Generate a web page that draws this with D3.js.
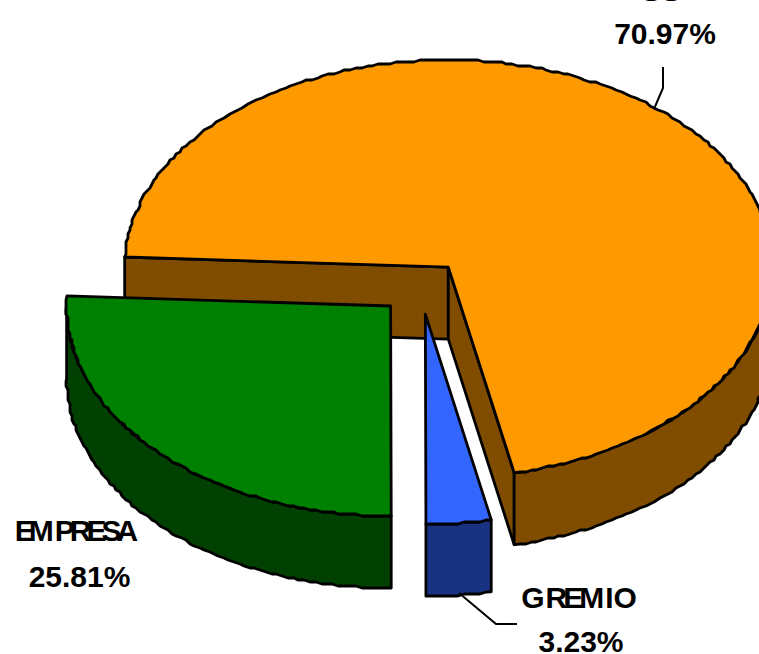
<!DOCTYPE html>
<html>
<head>
<meta charset="utf-8">
<script src="https://cdn.jsdelivr.net/npm/d3@7"></script>
<style>
  html, body { margin: 0; padding: 0; background: #fff; overflow: hidden; }
  text { font-family: "Liberation Sans", Arial, sans-serif; font-weight: bold; fill: #000; text-anchor: middle; }
</style>
</head>
<body>
<div id="plot"></div>
<script>
// values as printed next to each slice
// first name runs off the top of the picture, only the foot of two letters shows
var categories = ["SS", "GREMIO", "EMPRESA"];
var shares = [70.97, 3.23, 25.81];
var shareLabels = ["70.97%", "3.23%", "25.81%"];
var topColors = ["#ff9900", "#3366ff", "#008000"];
var sideColors = ["#804c00", "#1a3380", "#004000"];

var width = 759, height = 654;
var cx = 421, cy = 287.5, rx = 324, ry = 207;
var explode = 42, depth = 72;
var firstAngle = -87.2 * Math.PI / 180;
var grid = 2; // the outline of the original is stepped, not smooth

var svg = d3.select("#plot")
  .append("svg")
    .attr("width", width)
    .attr("height", height);

// unit circle -> tilted ellipse, the front half comes out a little deeper
var x = d3.scaleLinear().domain([-1, 1]).range([cx - rx, cx + rx]);
var y = d3.scaleLinear().domain([-1, 0, 1]).range([cy - ry, cy, cy + ry + 3]);

var pie = d3.pie().sort(null)
  .startAngle(firstAngle)
  .endAngle(firstAngle + 2 * Math.PI);
var slices = pie(shares);

var line = d3.line();

function shift(d) {
  var mid = (d.startAngle + d.endAngle) / 2;
  return [explode * Math.sin(mid), -explode * Math.cos(mid) * ry / rx];
}

function rim(a, d, drop) {
  var s = shift(d);
  return [x(Math.sin(a)) + s[0], y(-Math.cos(a)) + s[1] + drop];
}

function apex(d, drop) {
  var s = shift(d);
  return [cx + s[0], cy + s[1] + drop];
}

function arcPoints(a0, a1, d, drop) {
  var n = Math.max(1, Math.ceil(Math.abs(a1 - a0) * 55));
  return d3.range(n + 1).map(function (i) {
    var p = rim(a0 + (a1 - a0) * i / n, d, drop);
    if (i === 0 || i === n) return p;
    return [Math.round(p[0] / grid) * grid, Math.round(p[1] / grid) * grid];
  });
}

function drawFace(points, color) {
  svg.append("path")
    .attr("d", line(points) + "Z")
    .attr("fill", color)
    .attr("stroke", "#000")
    .attr("stroke-width", 2.8)
    .attr("stroke-linejoin", "round");
}

function drawSlice(i) {
  var d = slices[i];
  var a0 = d.startAngle, a1 = d.endAngle;

  // the cut walls only face the viewer on the big slice
  if (i === 0) {
    drawFace([apex(d, 0), rim(a0, d, 0), rim(a0, d, depth), apex(d, depth)], sideColors[i]);
    drawFace([apex(d, 0), rim(a1, d, 0), rim(a1, d, depth), apex(d, depth)], sideColors[i]);
  }

  // outer wall, front half of the ellipse only
  var from = Math.max(a0, Math.PI / 2), to = Math.min(a1, 3 * Math.PI / 2);
  var outer = arcPoints(from, to, d, 0).concat(arcPoints(to, from, d, depth));
  drawFace(outer, sideColors[i]);

  drawFace([apex(d, 0)].concat(arcPoints(a0, a1, d, 0)), topColors[i]);
}

// back to front
drawSlice(0);
drawSlice(1);
drawSlice(2);

// leader lines
var leaders = [
  [[663, 67], [663, 88], [654, 109]],
  [[459, 593], [496, 624], [517, 624]]
];
svg.selectAll(".leader")
  .data(leaders)
  .enter()
  .append("path")
    .attr("class", "leader")
    .attr("d", function (d) { return line(d); })
    .attr("fill", "none")
    .attr("stroke", "#000")
    .attr("stroke-width", 2);

function label(text, px, py, size, dx) {
  svg.append("text")
    .attr("x", px)
    .attr("y", py)
    .attr("dx", dx || null)
    .style("font-size", size + "px")
    .text(text);
}

label(categories[0], 661, 0.5, 30);
label(shareLabels[0], 665, 44, 30);
label(categories[1], 579, 608, 30, "0 1 -4 -4 1 0");
label(shareLabels[1], 581, 652, 30);
label(categories[2], 76.5, 541, 30, "0 -6 1 -5 -5 -5 -5");
label(shareLabels[2], 79.5, 587, 30);
</script>
</body>
</html>
